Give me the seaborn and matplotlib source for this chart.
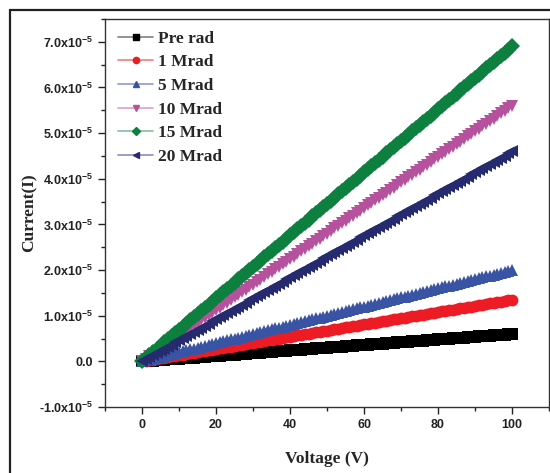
import matplotlib
matplotlib.use("Agg")
import matplotlib.pyplot as plt
import seaborn as sns
import pandas as pd
from matplotlib.lines import Line2D
from matplotlib.patches import Rectangle
from matplotlib.ticker import MultipleLocator, FuncFormatter

# Voltage (V)
voltage = list(range(0, 101))

# Current values in units of 1e-7 A
pre_rad = [0, 0.6, 1.2, 1.8, 2.4, 3.0, 3.6, 4.2, 4.8, 5.4, 6.0, 6.6, 7.2, 7.8, 8.4, 9.0, 9.6, 10.2, 10.8, 11.4,
           12.0, 12.6, 13.2, 13.8, 14.4, 15.0, 15.6, 16.2, 16.8, 17.4, 18.0, 18.6, 19.2, 19.8, 20.4, 21.0, 21.6,
           22.2, 22.8, 23.4, 24.0, 24.6, 25.2, 25.8, 26.4, 27.0, 27.6, 28.2, 28.8, 29.4, 30.0, 30.6, 31.2, 31.8,
           32.4, 33.0, 33.6, 34.2, 34.8, 35.4, 36.0, 36.6, 37.2, 37.8, 38.4, 39.0, 39.6, 40.2, 40.8, 41.4, 42.0,
           42.6, 43.2, 43.8, 44.4, 45.0, 45.6, 46.2, 46.8, 47.4, 48.0, 48.6, 49.2, 49.8, 50.4, 51.0, 51.6, 52.2,
           52.8, 53.4, 54.0, 54.6, 55.2, 55.8, 56.4, 57.0, 57.6, 58.2, 58.8, 59.4, 60.0]
mrad_1 = [0, 1.35, 2.7, 4.05, 5.4, 6.75, 8.1, 9.45, 10.8, 12.15, 13.5, 14.85, 16.2, 17.55, 18.9, 20.25, 21.6,
          22.95, 24.3, 25.65, 27.0, 28.35, 29.7, 31.05, 32.4, 33.75, 35.1, 36.45, 37.8, 39.15, 40.5, 41.85, 43.2,
          44.55, 45.9, 47.25, 48.6, 49.95, 51.3, 52.65, 54.0, 55.35, 56.7, 58.05, 59.4, 60.75, 62.1, 63.45, 64.8,
          66.15, 67.5, 68.85, 70.2, 71.55, 72.9, 74.25, 75.6, 76.95, 78.3, 79.65, 81.0, 82.35, 83.7, 85.05, 86.4,
          87.75, 89.1, 90.45, 91.8, 93.15, 94.5, 95.85, 97.2, 98.55, 99.9, 101.25, 102.6, 103.95, 105.3, 106.65,
          108.0, 109.35, 110.7, 112.05, 113.4, 114.75, 116.1, 117.45, 118.8, 120.15, 121.5, 122.85, 124.2,
          125.55, 126.9, 128.25, 129.6, 130.95, 132.3, 133.65, 135.0]
mrad_5 = [0, 2, 4, 6, 8, 10, 12, 14, 16, 18, 20, 22, 24, 26, 28, 30, 32, 34, 36, 38, 40, 42, 44, 46, 48, 50,
          52, 54, 56, 58, 60, 62, 64, 66, 68, 70, 72, 74, 76, 78, 80, 82, 84, 86, 88, 90, 92, 94, 96, 98, 100,
          102, 104, 106, 108, 110, 112, 114, 116, 118, 120, 122, 124, 126, 128, 130, 132, 134, 136, 138, 140,
          142, 144, 146, 148, 150, 152, 154, 156, 158, 160, 162, 164, 166, 168, 170, 172, 174, 176, 178, 180,
          182, 184, 186, 188, 190, 192, 194, 196, 198, 200]
mrad_10 = [0, 5.6, 11.2, 16.8, 22.4, 28.0, 33.6, 39.2, 44.8, 50.4, 56.0, 61.6, 67.2, 72.8, 78.4, 84.0, 89.6,
           95.2, 100.8, 106.4, 112.0, 117.6, 123.2, 128.8, 134.4, 140.0, 145.6, 151.2, 156.8, 162.4, 168.0,
           173.6, 179.2, 184.8, 190.4, 196.0, 201.6, 207.2, 212.8, 218.4, 224.0, 229.6, 235.2, 240.8, 246.4,
           252.0, 257.6, 263.2, 268.8, 274.4, 280.0, 285.6, 291.2, 296.8, 302.4, 308.0, 313.6, 319.2, 324.8,
           330.4, 336.0, 341.6, 347.2, 352.8, 358.4, 364.0, 369.6, 375.2, 380.8, 386.4, 392.0, 397.6, 403.2,
           408.8, 414.4, 420.0, 425.6, 431.2, 436.8, 442.4, 448.0, 453.6, 459.2, 464.8, 470.4, 476.0, 481.6,
           487.2, 492.8, 498.4, 504.0, 509.6, 515.2, 520.8, 526.4, 532.0, 537.6, 543.2, 548.8, 554.4, 560.0]
mrad_15 = [0, 6.9, 13.8, 20.7, 27.6, 34.5, 41.4, 48.3, 55.2, 62.1, 69.0, 75.9, 82.8, 89.7, 96.6, 103.5, 110.4,
           117.3, 124.2, 131.1, 138.0, 144.9, 151.8, 158.7, 165.6, 172.5, 179.4, 186.3, 193.2, 200.1, 207.0,
           213.9, 220.8, 227.7, 234.6, 241.5, 248.4, 255.3, 262.2, 269.1, 276.0, 282.9, 289.8, 296.7, 303.6,
           310.5, 317.4, 324.3, 331.2, 338.1, 345.0, 351.9, 358.8, 365.7, 372.6, 379.5, 386.4, 393.3, 400.2,
           407.1, 414.0, 420.9, 427.8, 434.7, 441.6, 448.5, 455.4, 462.3, 469.2, 476.1, 483.0, 489.9, 496.8,
           503.7, 510.6, 517.5, 524.4, 531.3, 538.2, 545.1, 552.0, 558.9, 565.8, 572.7, 579.6, 586.5, 593.4,
           600.3, 607.2, 614.1, 621.0, 627.9, 634.8, 641.7, 648.6, 655.5, 662.4, 669.3, 676.2, 683.1, 690.0]
mrad_20 = [0, 4.6, 9.2, 13.8, 18.4, 23.0, 27.6, 32.2, 36.8, 41.4, 46.0, 50.6, 55.2, 59.8, 64.4, 69.0, 73.6,
           78.2, 82.8, 87.4, 92.0, 96.6, 101.2, 105.8, 110.4, 115.0, 119.6, 124.2, 128.8, 133.4, 138.0, 142.6,
           147.2, 151.8, 156.4, 161.0, 165.6, 170.2, 174.8, 179.4, 184.0, 188.6, 193.2, 197.8, 202.4, 207.0,
           211.6, 216.2, 220.8, 225.4, 230.0, 234.6, 239.2, 243.8, 248.4, 253.0, 257.6, 262.2, 266.8, 271.4,
           276.0, 280.6, 285.2, 289.8, 294.4, 299.0, 303.6, 308.2, 312.8, 317.4, 322.0, 326.6, 331.2, 335.8,
           340.4, 345.0, 349.6, 354.2, 358.8, 363.4, 368.0, 372.6, 377.2, 381.8, 386.4, 391.0, 395.6, 400.2,
           404.8, 409.4, 414.0, 418.6, 423.2, 427.8, 432.4, 437.0, 441.6, 446.2, 450.8, 455.4, 460.0]

labels = ["Pre rad", "1 Mrad", "5 Mrad", "10 Mrad", "15 Mrad", "20 Mrad"]
series = [pre_rad, mrad_1, mrad_5, mrad_10, mrad_15, mrad_20]
colors = ["#000000", "#ED1C24", "#3A54A5", "#B5519D", "#0D7F3F", "#262B70"]
light = ["#808080", "#F47A7E", "#8C9AD0", "#D9A0CC", "#7CC49A", "#8A8EC0"]
markers = ["s", "o", "^", "v", "D", "<"]

sns.set_style("ticks")
plt.rcParams["font.family"] = ["Liberation Sans", "DejaVu Sans"]
plt.rcParams["mathtext.default"] = "bf"
plt.rcParams["mathtext.fontset"] = "custom"
plt.rcParams["mathtext.bf"] = "Liberation Sans:bold"

fig = plt.figure(figsize=(5.5, 4.73), dpi=100)
ax = fig.add_axes([105 / 550, 1 - 407 / 473, 444 / 550, 388 / 473])

for lab, vals, c, m in zip(labels, series, colors, markers):
    df = pd.DataFrame({"V": voltage, "I": [v * 1e-7 for v in vals]})
    sns.lineplot(data=df, x="V", y="I", ax=ax, color=c, marker=m, markersize=8.5,
                 markeredgewidth=0, linewidth=1, legend=False)

ax.set_xlim(-10, 110)
ax.set_ylim(-1.0e-5, 7.5e-5)
ax.xaxis.set_major_locator(MultipleLocator(20))
ax.xaxis.set_minor_locator(MultipleLocator(10))
ax.yaxis.set_major_locator(MultipleLocator(1e-5))
ax.yaxis.set_minor_locator(MultipleLocator(0.5e-5))


def yfmt(v, pos):
    n = round(v / 1e-5, 1)
    if abs(n) < 1e-9:
        return "0.0"
    return "%.1fx10$^{-5}$" % n


ax.yaxis.set_major_formatter(FuncFormatter(yfmt))
ax.tick_params(which="major", length=5, width=1, direction="out", labelsize=9, colors="#222222")
ax.tick_params(which="minor", length=3, width=1, direction="out", colors="#222222")
for t in ax.get_xticklabels() + ax.get_yticklabels():
    t.set_fontweight("bold")
for s in ax.spines.values():
    s.set_color("#333333")
    s.set_linewidth(1)

ax.set_xlabel("Voltage (V)", family=["Liberation Serif"], fontweight="bold", fontsize=12.5)
ax.set_ylabel("Current(I)", family=["Liberation Serif"], fontweight="bold", fontsize=12.5)
ax.xaxis.set_label_coords(0.5, -0.113)
ax.yaxis.set_label_coords(-0.153, 0.5)

handles = [Line2D([0], [0], color=lc, lw=1.2, marker=m, markersize=4.5, markerfacecolor=c,
                  markeredgecolor=c) for c, lc, m in zip(colors, light, markers)]
ax.legend(handles, labels, loc="upper left", bbox_to_anchor=(0.03, 0.970), frameon=False,
          prop={"family": "Liberation Serif", "weight": "bold", "size": 12.5},
          handlelength=2.0, handletextpad=0.3, labelspacing=0.43, borderpad=0, borderaxespad=0)

fig.patches.append(Rectangle((9.5 / 550, -0.1), 1.2, 0.1 + 1 - 10 / 473, transform=fig.transFigure,
                             fill=False, edgecolor="#222222", linewidth=1.6))

fig.savefig("out.png", dpi=100)
